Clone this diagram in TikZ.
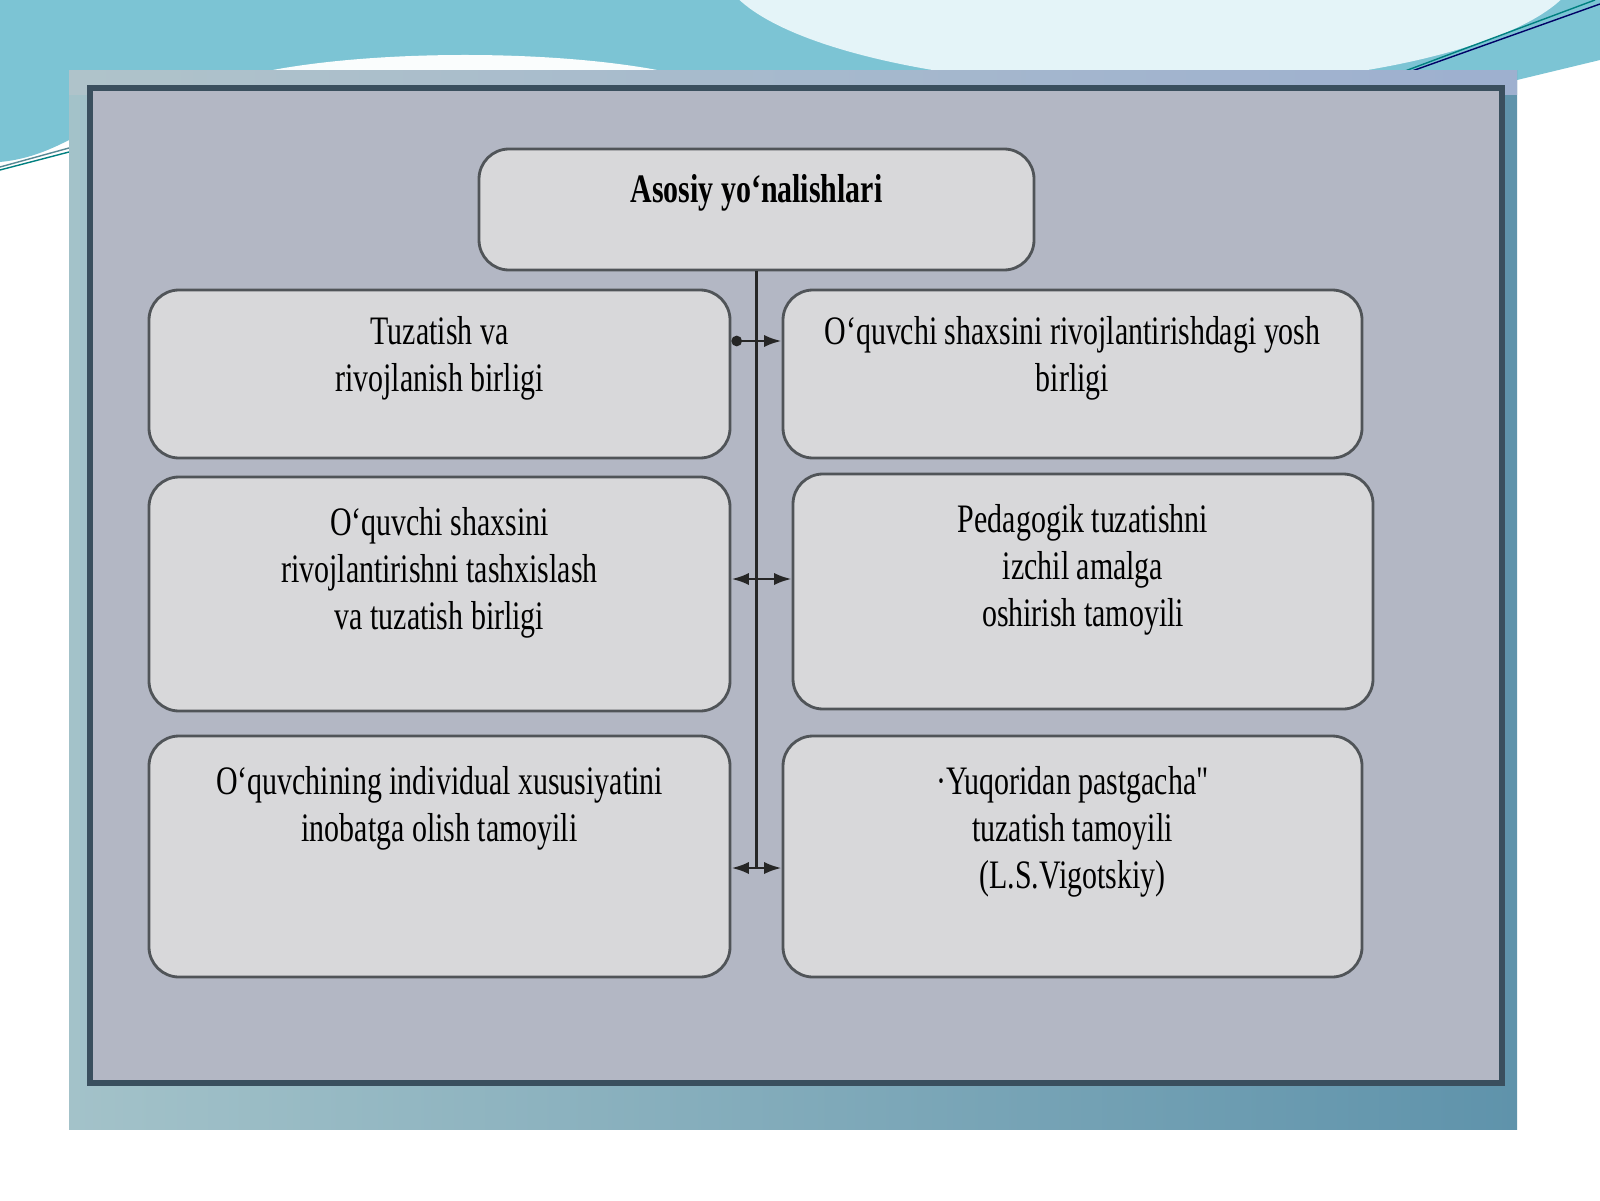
\documentclass[tikz,border=0pt]{standalone}
\usepackage{fontspec}
\setmainfont[FakeStretch=0.74, Ligatures=TeXOff]{Liberation Serif}
\usetikzlibrary{arrows.meta,positioning}
\definecolor{skyteal}{HTML}{7CC4D4}
\definecolor{skylight}{HTML}{E4F4F8}
\definecolor{panelL}{HTML}{A3C2C9}
\definecolor{panelR}{HTML}{5F93AB}
\definecolor{panelTop}{HTML}{AFC3CA}
\definecolor{framefill}{HTML}{B3B7C4}
\definecolor{framedark}{HTML}{3A4F5E}
\definecolor{boxfill}{HTML}{D8D8DA}
\definecolor{boxedge}{HTML}{505458}
\tikzset{
  unit/.style={draw=boxedge, fill=boxfill, rounded corners=0.3cm, line width=0.8pt},
  caption/.style={align=center, inner sep=0pt, font=\fontsize{11.5pt}{13.4pt}\selectfont},
  link/.style={line width=0.8pt, black!85}
}
\begin{document}
\begin{tikzpicture}
	\useasboundingbox (0,0) rectangle (16,12);
	\fill[white] (0,0) rectangle (16,12);
	% background waves
	\fill[skyteal] (0,12) -- (16,12) -- (16,11.4) -- (15.17,11.2) -- (15.17,11.29) -- (0.69,11.29) -- (0.69,10.6) .. controls (0.4,10.45) and (0.2,10.4) .. (0,10.38) -- cycle;
	\fill[skylight] (11.5,12.37) ellipse [x radius=4.3, y radius=1.24];
	\fill[white!96!skyteal] (4.65,10.9) ellipse [x radius=2.8, y radius=0.55];
	\draw[skyteal!70!black, thin] (0,10.33) -- (0.69,10.52);
	\draw[teal, thin] (0,10.30) -- (0.69,10.48);
	\draw[teal, thin] (14.05,11.29) -- (15.95,12);
	\draw[blue!40!black, thin] (14.12,11.29) -- (16,11.96);
	% panel and frame
	\shade[left color=panelL, right color=panelR] (0.69,0.71) rectangle (15.17,11.29);
	\shade[left color=panelTop, right color=panelTop!90!blue] (0.69,11.05) rectangle (15.17,11.29);
	\draw[framedark, line width=1.6pt, fill=framefill] (0.90,1.17) rectangle (15.02,11.12);

	% boxes
	\node[unit, minimum width=5.55cm, minimum height=1.21cm] (top) at (7.565,9.905) {};
	\node[unit, minimum width=5.81cm, minimum height=1.68cm] (l1) at (4.395,8.26) {};
	\node[unit, minimum width=5.81cm, minimum height=2.34cm] (l2) at (4.395,6.06) {};
	\node[unit, minimum width=5.81cm, minimum height=2.41cm] (l3) at (4.395,3.435) {};
	\node[unit, minimum width=5.79cm, minimum height=1.68cm] (r1) at (10.725,8.26) {};
	\node[unit, minimum width=5.80cm, minimum height=2.35cm] (r2) at (10.83,6.085) {};
	\node[unit, minimum width=5.79cm, minimum height=2.41cm] (r3) at (10.725,3.435) {};

	% texts
	\node[caption, font=\fontsize{11.5pt}{13.4pt}\selectfont\bfseries, below=0.26cm of top.north] (topt) {Asosiy yoʻnalishlari};
	\node[caption, below=0.27cm of l1.north] (l1t) {Tuzatish va\\rivojlanish birligi};
	\node[caption, below=0.31cm of l2.north] (l2t) {Oʻquvchi shaxsini\\rivojlantirishni tashxislash\\va tuzatish birligi};
	\node[caption, below=0.31cm of l3.north] (l3t) {Oʻquvchining individual xususiyatini\\inobatga olish tamoyili};
	\node[caption, below=0.27cm of r1.north] (r1t) {Oʻquvchi shaxsini rivojlantirishdagi yosh\\birligi};
	\node[caption, below=0.31cm of r2.north] (r2t) {Pedagogik tuzatishni\\izchil amalga\\oshirish tamoyili};
	\node[caption, below=0.31cm of r3.north] (r3t) {·Yuqoridan pastgacha"\\tuzatish tamoyili\\(L.S.Vigotskiy)};

	% connectors
	\coordinate (a1) at (7.56,8.59);
	\coordinate (a2) at (7.56,6.21);
	\coordinate (a3) at (7.56,3.32);
	\draw[link] (top.south) -- (top.south |- a3);
	\draw[link, {Circle[length=3pt]}-{Latex[length=5pt,width=3.5pt]}] (l1.east |- a1) -- (r1.west |- a1);
	\draw[link, {Latex[length=5pt,width=3.5pt]}-{Latex[length=5pt,width=3.5pt]}] (l2.east |- a2) -- (r2.west |- a2);
	\draw[link, {Latex[length=5pt,width=3.5pt]}-{Latex[length=5pt,width=3.5pt]}] (l3.east |- a3) -- (r3.west |- a3);
\end{tikzpicture}
\end{document}
